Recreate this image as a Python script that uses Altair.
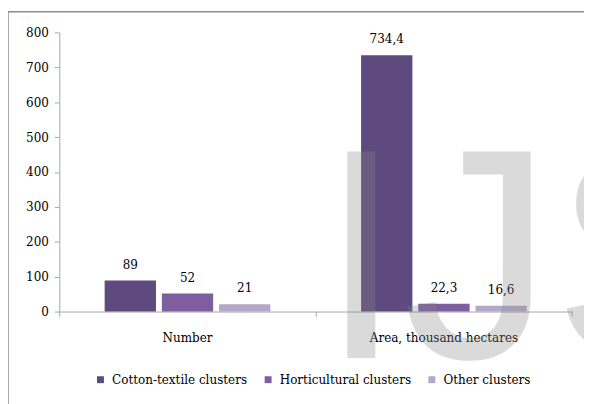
import altair as alt
import pandas as pd

categories = ["Number", "Area, thousand hectares"]
series = ["Cotton-textile clusters", "Horticultural clusters", "Other clusters"]
number_values = [89, 52, 21]
area_values = [734.4, 22.3, 16.6]
number_labels = ["89", "52", "21"]
area_labels = ["734,4", "22,3", "16,6"]
colors = ["#5f4a80", "#7d5e9e", "#b4a8c8"]
y_ticks = [0, 100, 200, 300, 400, 500, 600, 700, 800]
watermark = ["IJS"]

rows = []
for cat, vals, labs in zip(categories, [number_values, area_values], [number_labels, area_labels]):
    for s, v, l in zip(series, vals, labs):
        rows.append({"category": cat, "series": s, "value": v, "label": l})
df = pd.DataFrame(rows)

W, H = 520, 283
FONT = "DejaVu Serif Condensed"
FS = 13.5

x_enc = alt.X(
    "category:N", sort=categories,
    scale=alt.Scale(paddingInner=0, paddingOuter=0),
    axis=alt.Axis(title=None, labelAngle=0, bandPosition=0,
                  domainColor="#a6a6a6", tickColor="#a6a6a6", tickSize=5,
                  labelFont=FONT, labelFontSize=FS, labelColor="#000000",
                  labelPadding=14, labelLimit=300),
)
xoff = alt.XOffset("series:N", sort=series,
                   scale=alt.Scale(paddingInner=0.103, paddingOuter=0.793))
y_enc = alt.Y(
    "value:Q",
    scale=alt.Scale(domain=[0, 800], nice=False),
    axis=alt.Axis(title=None, values=y_ticks, grid=False,
                  domainColor="#a6a6a6", tickColor="#a6a6a6", tickSize=5,
                  labelFont=FONT, labelFontSize=FS, labelColor="#000000",
                  labelPadding=6),
)

base = alt.Chart(df)

bars = base.mark_bar().encode(
    x=x_enc,
    xOffset=xoff,
    y=y_enc,
    color=alt.Color(
        "series:N", sort=series,
        scale=alt.Scale(domain=series, range=colors),
        legend=alt.Legend(
            title=None, orient="none", direction="horizontal",
            legendX=35, legendY=345,
            symbolType="square", symbolSize=49, symbolStrokeWidth=0,
            labelFont=FONT, labelFontSize=FS, labelColor="#000000",
            labelOffset=5, columnPadding=14, labelLimit=300,
        ),
    ),
)

labels = base.mark_text(font=FONT, fontSize=FS, color="#000000",
                        baseline="alphabetic", dy=-12).encode(
    x=x_enc,
    xOffset=xoff,
    y=y_enc,
    text="label:N",
)

end_tick = alt.Chart(pd.DataFrame({"t": watermark})).mark_rule(
    color="#a6a6a6", strokeWidth=1
).encode(x=alt.value(W), y=alt.value(H), y2=alt.value(H + 5))

wm = alt.Chart(pd.DataFrame({"t": watermark})).mark_text(
    font="Liberation Sans", fontSize=304, align="left", baseline="alphabetic",
    color="#888888", opacity=0.3,
).encode(x=alt.value(264), y=alt.value(330), text="t:N")

border = alt.Chart(pd.DataFrame({"t": watermark})).mark_rect(
    filled=False, stroke="#8c8c8c", strokeWidth=1.5,
).encode(x=alt.value(-52), x2=alt.value(W + 40), y=alt.value(-21), y2=alt.value(H + 120))

chart = alt.layer(bars, labels, end_tick, wm, border).properties(
    width=W, height=H,
    autosize=alt.AutoSizeParams(type="none"),
    padding={"left": 52, "top": 22, "right": 12, "bottom": 91},
).configure_view(stroke=None)

chart.save("out.html", embed_options={"renderer": "svg", "actions": False})
